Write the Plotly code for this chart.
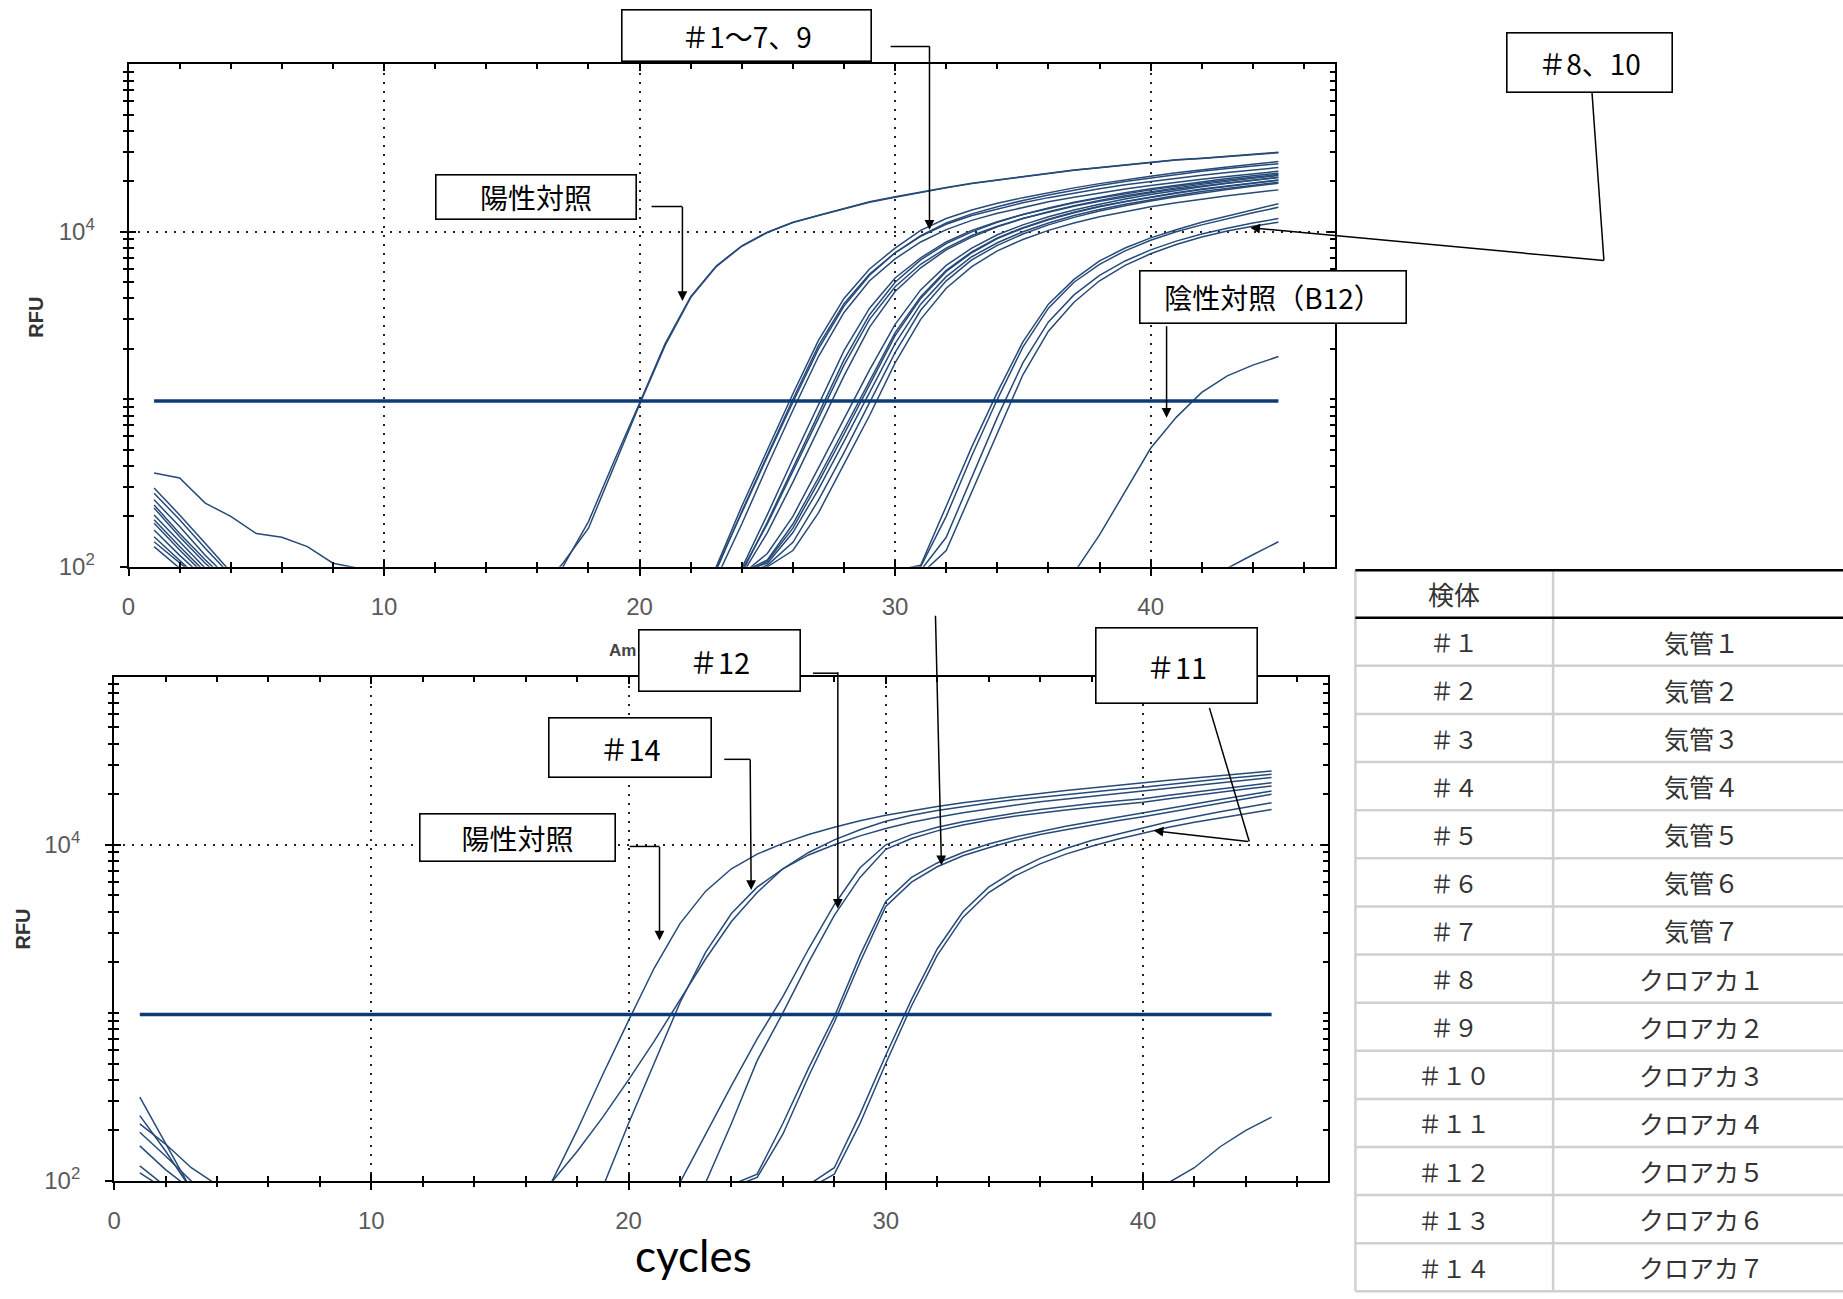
import plotly.graph_objects as go

# ---------------- data (RFU values) ----------------
# Top panel: each curve = early baseline values (cycles 1..n), then the
# amplification values starting at the given cycle and running to cycle 45.
top_pc_a_early = [363, 339, 240, 200, 158, 150, 132, 105, 98, 89]
top_pc_a_start = 16
top_pc_a = [63, 100, 186, 427, 950, 2150, 4100, 6250, 8250, 9950, 11400, 12550, 13750, 15100,
            16200, 17350, 18400, 19500, 20400, 21400, 22400, 23400, 24250, 25100, 26000, 26900,
            27500, 28200, 29150, 29850]
top_pc_b_early = [295, 204, 138, 93]
top_pc_b_start = 16
top_pc_b = [70, 105, 170, 400, 930, 2100, 4050, 6200, 8200, 9900, 11350, 12500, 13700, 15000,
            16100, 17250, 18300, 19400, 20300, 21300, 22300, 23300, 24150, 25000, 25900, 26800,
            27400, 28100, 29000, 29700]

top_a1_early = [275, 191, 129, 89]
top_a1_start = 22
top_a1 = [60, 100, 230, 500, 1080, 2250, 4000, 6000, 8000, 10200, 12000, 13500, 14800, 16000,
          17200, 18300, 19400, 20500, 21500, 22500, 23500, 24400, 25300, 26300]
top_a2_early = [251, 174, 117, 83]
top_a2_start = 22
top_a2 = [55, 95, 214, 468, 1000, 2090, 3720, 5600, 7500, 9400, 11100, 12500, 13700, 14900,
          16000, 17100, 18100, 19100, 20000, 20900, 21800, 22600, 23400, 24200]
top_a3_early = [234, 158, 110, 79]
top_a3_start = 22
top_a3 = [58, 98, 210, 455, 960, 2000, 3600, 5500, 7500, 9500, 11300, 12800, 14100, 15400,
          16600, 17800, 18900, 20000, 21000, 22000, 23000, 23900, 24700, 25500]
top_a4_early = [224, 151, 105, 76]
top_a4_start = 22
top_a4 = [50, 85, 180, 400, 860, 1800, 3300, 5100, 6900, 8700, 10300, 11700, 12900, 14000,
          15100, 16100, 17100, 18000, 18900, 19800, 20600, 21400, 22200, 23000]

top_b1_early = [204, 141, 98, 71]
top_b1_start = 23
top_b1 = [60, 98, 205, 440, 930, 1950, 3500, 5300, 7000, 8700, 10200, 11500, 12700, 13800,
          14900, 15900, 16900, 17800, 18700, 19600, 20400, 21200, 22000]
top_b2_early = [191, 132, 93, 71]
top_b2_start = 23
top_b2 = [55, 92, 185, 390, 820, 1720, 3200, 5000, 6800, 8500, 10000, 11400, 12700, 13900,
          15000, 16100, 17100, 18100, 19000, 19900, 20800, 21600, 22400]
top_b3_early = [182, 126, 89, 71]
top_b3_start = 23
top_b3 = [55, 95, 180, 370, 770, 1600, 3000, 4700, 6400, 8000, 9500, 10800, 12000, 13100,
          14200, 15200, 16200, 17100, 18000, 18800, 19600, 20400, 21200]
top_b4_early = [166, 117, 85, 71]
top_b4_start = 23
top_b4 = [50, 90, 160, 320, 660, 1380, 2700, 4400, 6100, 7800, 9300, 10700, 12000, 13200,
          14300, 15400, 16400, 17400, 18300, 19200, 20100, 20900, 21700]

top_c1_early = [151, 110, 79, 71]
top_c1_start = 24
top_c1 = [90, 120, 200, 390, 760, 1500, 2800, 4500, 6300, 8000, 9600, 11000, 12300, 13500,
          14600, 15700, 16700, 17700, 18600, 19500, 20300, 21100]
top_c2_early = [141, 105, 79, 71]
top_c2_start = 24
top_c2 = [92, 110, 180, 340, 660, 1300, 2500, 4100, 5900, 7600, 9200, 10600, 11900, 13100,
          14200, 15200, 16200, 17100, 18000, 18800, 19600, 20400]
top_c3_early = [132, 98, 76, 71]
top_c3_start = 24
top_c3 = [95, 105, 160, 290, 560, 1100, 2150, 3700, 5400, 7100, 8600, 10000, 11300, 12500,
          13600, 14600, 15600, 16500, 17400, 18200, 19000, 19800]
top_c4_start = 24
top_c4 = [90, 102, 140, 250, 480, 950, 1900, 3400, 5100, 6800, 8300, 9700, 11000, 12200,
          13300, 14300, 15300, 16200, 17100, 17900, 18700, 19500]
top_c5_start = 24
top_c5 = [85, 100, 125, 210, 410, 800, 1650, 3000, 4600, 6200, 7700, 9000, 10200, 11300,
          12300, 13200, 14100, 14900, 15700, 16400, 17100, 17800]
top_c6_start = 24
top_c6 = [88, 108, 170, 320, 620, 1230, 2400, 4000, 5800, 7500, 9100, 10500, 11800, 13000,
          14100, 15100, 16100, 17000, 17900, 18700, 19500, 20300]

top_g2_start = 30
top_g2a = [95, 102, 230, 520, 1100, 2200, 3700, 5200, 6700, 8000, 9200, 10300, 11400, 12400, 13500, 14700]
top_g2b = [90, 100, 200, 460, 1000, 2050, 3500, 5000, 6400, 7700, 8900, 10000, 11000, 12000, 13000, 14000]
top_g2c = [70, 95, 150, 340, 780, 1650, 2900, 4200, 5500, 6700, 7800, 8800, 9700, 10500, 11300, 12000]
top_g2d = [60, 90, 125, 280, 640, 1400, 2550, 3800, 5100, 6300, 7400, 8400, 9300, 10100, 10800, 11400]

top_nc_start = 36
top_nc = [65, 92, 155, 280, 510, 780, 1100, 1380, 1600, 1800]
top_late_start = 42
top_late = [80, 98, 118, 141]

# Bottom panel
bot_pc_early = [316, 166, 89]
bot_pc_start = 16
bot_pc = [60, 98, 200, 430, 900, 1850, 3400, 5300, 7200, 8800, 10200, 11500, 12700, 13900,
          15000, 16000, 16900, 17800, 18600, 19400, 20200, 21000, 21800, 22600, 23400, 24200,
          25000, 25800, 26600, 27500]
bot_14a_early = [245, 151, 89]
bot_14a_start = 16
bot_14a = [70, 98, 150, 240, 400, 680, 1200, 2100, 3500, 5200, 7200, 9000, 10700, 12300, 13800,
           15000, 16000, 16900, 17700, 18500, 19200, 19900, 20600, 21300, 22000, 22900, 23700,
           24600, 25400, 26300]
bot_14b_early = [219, 166, 120, 95]
bot_14b_start = 18
bot_14b = [60, 92, 220, 500, 1150, 2300, 3900, 5600, 7200, 8700, 10000, 11300, 12500, 13600,
           14600, 15500, 16400, 17200, 18000, 18700, 19400, 20100, 20800, 21600, 22500, 23300,
           24200, 25100]
bot_12a_early = [195, 141, 100, 79]
bot_12a_start = 21
bot_12a = [60, 98, 190, 370, 700, 1250, 2400, 4400, 7300, 10000, 11500, 12700, 13700, 14600,
           15400, 16200, 16900, 17600, 18200, 18800, 19700, 20600, 21500, 22400, 23400]
bot_12b_early = [162, 117, 89]
bot_12b_start = 22
bot_12b = [60, 98, 220, 520, 1000, 2000, 3800, 6400, 9400, 10900, 12100, 13100, 14000, 14800,
           15500, 16100, 16700, 17300, 17900, 18800, 19700, 20600, 21500, 22400]
bot_13a_early = [123, 93]
bot_13a_start = 23
bot_13a = [70, 95, 110, 220, 470, 950, 2200, 4600, 6400, 7800, 9000, 10100, 11100, 12000,
           12900, 13700, 14600, 15500, 16500, 17500, 18600, 19700, 20900]
bot_13b_early = [112, 89]
bot_13b_start = 23
bot_13b = [65, 92, 105, 190, 420, 880, 2000, 4300, 6000, 7400, 8600, 9600, 10600, 11500,
           12300, 13100, 13900, 14700, 15600, 16600, 17600, 18800, 20000]
bot_11_start = 26
bot_11a = [70, 95, 120, 250, 560, 1200, 2400, 4000, 5600, 7000, 8300, 9500, 10600, 11600,
           12600, 13700, 14700, 15700, 16700, 17800]
bot_11b = [65, 90, 110, 220, 500, 1100, 2200, 3700, 5200, 6500, 7700, 8800, 9800, 10800,
           11700, 12700, 13600, 14500, 15300, 16200]
bot_nc_start = 40
bot_nc = [70, 98, 120, 160, 200, 240]

threshold_cycles = [1, 45]
threshold_top = 977
threshold_bottom = 980

x_tick_vals = [0, 10, 20, 30, 40]
y_tick_vals = [100, 10000]
y_tick_text = ["10<sup>2</sup>", "10<sup>4</sup>"]
y_minor_vals = [200, 300, 400, 500, 600, 700, 800, 900,
                1000, 2000, 3000, 4000, 5000, 6000, 7000, 8000, 9000,
                20000, 30000, 40000, 50000, 60000, 70000, 80000, 90000]

table_header = ["検体", ""]
sample_ids = ["＃１", "＃２", "＃３", "＃４", "＃５", "＃６", "＃７",
              "＃８", "＃９", "＃１０", "＃１１", "＃１２", "＃１３", "＃１４"]
sample_names = ["気管１", "気管２", "気管３", "気管４", "気管５", "気管６", "気管７",
                "クロアカ１", "クロアカ２", "クロアカ３", "クロアカ４", "クロアカ５", "クロアカ６", "クロアカ７"]

# ---------------- figure ----------------
W, H = 1843, 1299


def fx(p):
    return p / W


def fy(p):
    return 1 - p / H


CURVE = "#274a78"
TH = "#0d3b76"

top_curves = [
    (top_pc_a_early, top_pc_a_start, top_pc_a),
    (top_pc_b_early, top_pc_b_start, top_pc_b),
    (top_a1_early, top_a1_start, top_a1),
    (top_a2_early, top_a2_start, top_a2),
    (top_a3_early, top_a3_start, top_a3),
    (top_a4_early, top_a4_start, top_a4),
    (top_b1_early, top_b1_start, top_b1),
    (top_b2_early, top_b2_start, top_b2),
    (top_b3_early, top_b3_start, top_b3),
    (top_b4_early, top_b4_start, top_b4),
    (top_c1_early, top_c1_start, top_c1),
    (top_c2_early, top_c2_start, top_c2),
    (top_c3_early, top_c3_start, top_c3),
    ([], top_c4_start, top_c4),
    ([], top_c5_start, top_c5),
    ([], top_c6_start, top_c6),
    ([], top_g2_start, top_g2a),
    ([], top_g2_start, top_g2b),
    ([], top_g2_start, top_g2c),
    ([], top_g2_start, top_g2d),
    ([], top_nc_start, top_nc),
    ([], top_late_start, top_late),
]
bot_curves = [
    (bot_pc_early, bot_pc_start, bot_pc),
    (bot_14a_early, bot_14a_start, bot_14a),
    (bot_14b_early, bot_14b_start, bot_14b),
    (bot_12a_early, bot_12a_start, bot_12a),
    (bot_12b_early, bot_12b_start, bot_12b),
    (bot_13a_early, bot_13a_start, bot_13a),
    (bot_13b_early, bot_13b_start, bot_13b),
    ([], bot_11_start, bot_11a),
    ([], bot_11_start, bot_11b),
    ([], bot_nc_start, bot_nc),
]

fig = go.Figure()


def add_curve(early, start, rise, xa, ya):
    xs = list(range(1, len(early) + 1)) + list(range(start, start + len(rise)))
    ys = list(early) + list(rise)
    fig.add_trace(go.Scatter(x=xs, y=ys, mode="lines", line=dict(color=CURVE, width=1.5),
                             xaxis=xa, yaxis=ya, hoverinfo="skip", showlegend=False))


for e, s, r in top_curves:
    add_curve(e, s, r, "x", "y")
for e, s, r in bot_curves:
    add_curve(e, s, r, "x2", "y2")

fig.add_trace(go.Scatter(x=threshold_cycles, y=[threshold_top] * 2, mode="lines",
                         line=dict(color=TH, width=3.5), xaxis="x", yaxis="y",
                         hoverinfo="skip", showlegend=False))
fig.add_trace(go.Scatter(x=threshold_cycles, y=[threshold_bottom] * 2, mode="lines",
                         line=dict(color=TH, width=3.5), xaxis="x2", yaxis="y2",
                         hoverinfo="skip", showlegend=False))
# empty traces so the inner-tick overlay axes get drawn
for xa, ya in [("x3", "y"), ("x", "y3"), ("x4", "y2"), ("x2", "y4")]:
    fig.add_trace(go.Scatter(x=[], y=[], xaxis=xa, yaxis=ya, showlegend=False, hoverinfo="skip"))

tickfont = dict(family="Liberation Sans", size=24, color="#5a5a5a")
grid = dict(showgrid=True, gridcolor="#222222", griddash="2px,7px", gridwidth=1.6)


def xaxis_main(dom, rng, anchor):
    return dict(domain=dom, range=rng, anchor=anchor, tickmode="array", tickvals=x_tick_vals,
                ticks="outside", ticklen=7, tickwidth=1.6, tickcolor="black",
                showline=True, linewidth=2, linecolor="black", mirror=True, zeroline=False,
                tickfont=tickfont, ticklabelstandoff=10,
                minor=dict(tickmode="linear", tick0=0, dtick=2, ticks="outside", ticklen=4,
                           tickwidth=1.6, tickcolor="black", showgrid=False),
                **grid)


def xaxis_over(over, rng, anchor):
    return dict(overlaying=over, range=rng, anchor=anchor, tickmode="array", tickvals=x_tick_vals,
                ticks="inside", ticklen=7, tickwidth=1.6, tickcolor="black", mirror="ticks",
                showline=False, showgrid=False, zeroline=False, showticklabels=False,
                minor=dict(tickmode="linear", tick0=0, dtick=2, ticks="inside", ticklen=5,
                           tickwidth=1.6, tickcolor="black", showgrid=False))


def yaxis_main(dom, anchor):
    return dict(domain=dom, type="log", range=[2, 5], anchor=anchor, tickmode="array",
                tickvals=y_tick_vals, ticktext=y_tick_text,
                ticks="outside", ticklen=7, tickwidth=1.6, tickcolor="black",
                showline=True, linewidth=2, linecolor="black", mirror=True, zeroline=False,
                tickfont=tickfont, ticklabelstandoff=20,
                minor=dict(tickmode="array", tickvals=y_minor_vals, ticks="outside", ticklen=4,
                           tickwidth=1.6, tickcolor="black", showgrid=False),
                **grid)


def yaxis_over(over, anchor):
    return dict(overlaying=over, type="log", range=[2, 5], anchor=anchor, tickmode="array",
                tickvals=y_tick_vals, ticks="inside", ticklen=7, tickwidth=1.6, tickcolor="black",
                mirror="ticks", showline=False, showgrid=False, zeroline=False,
                showticklabels=False,
                minor=dict(tickmode="array", tickvals=y_minor_vals, ticks="inside", ticklen=5,
                           tickwidth=1.6, tickcolor="black", showgrid=False))


top_xdom = [fx(122), fx(1333)]
top_ydom = [fy(572.5), fy(65)]
top_xr = [0, (1333 - 122) / 25.65]
bot_xdom = [fx(107.5), fx(1326)]
bot_ydom = [fy(1193), fy(683.5)]
bot_xr = [0, (1326 - 107.5) / 25.82]

annotations = []
shapes = []

JP = "Noto Sans CJK JP"


def box(text, cx, cy, w, h, size=28):
    annotations.append(dict(text=text, x=fx(cx), y=fy(cy), xref="paper", yref="paper",
                            xanchor="center", yanchor="middle", showarrow=False,
                            width=w, height=h, bordercolor="black", borderwidth=1.6,
                            borderpad=0, bgcolor="white", align="center", valign="middle",
                            font=dict(family=JP, size=size, color="black")))


def arrow(x0, y0, x1, y1):
    annotations.append(dict(text="", x=fx(x1), y=fy(y1), xref="paper", yref="paper",
                            ax=x0 - x1, ay=y0 - y1, showarrow=True, arrowhead=2,
                            arrowsize=1.3, arrowwidth=1.5, arrowcolor="black", standoff=0))


def seg(x0, y0, x1, y1, color="black", width=1.5):
    shapes.append(dict(type="line", xref="paper", yref="paper", x0=fx(x0), y0=fy(y0),
                       x1=fx(x1), y1=fy(y1), line=dict(color=color, width=width), layer="above"))


def text(t, cx, cy, size, color="black", family=JP, angle=0):
    annotations.append(dict(text=t, x=fx(cx), y=fy(cy), xref="paper", yref="paper",
                            xanchor="center", yanchor="middle", showarrow=False,
                            textangle=angle, font=dict(family=family, size=size, color=color)))


# axis captions
text("<b>RFU</b>", 29, 320, 20, "#333333", "Liberation Sans", -90)
text("<b>RFU</b>", 16, 938, 20, "#333333", "Liberation Sans", -90)
text("<b>Am</b>", 618, 657, 17, "#444444", "Liberation Sans")
text("cycles", 689, 1268, 44, "black", "Lato")

# connectors (drawn under the label boxes)
seg(647, 208.6, 678, 208.6)
arrow(678, 208.6, 678, 304)
seg(887, 47, 926, 47)
arrow(926, 47, 926, 232)
seg(1591, 93, 1603, 263)
arrow(1603, 263, 1248, 230)
arrow(1164, 329, 1164, 422)
seg(809, 680, 834, 680)
arrow(834, 680, 834, 918)
seg(720, 767, 746, 767)
arrow(746, 767, 747, 899)
seg(625, 855, 655, 855)
arrow(655, 855, 655, 950)
seg(1207, 715, 1247, 850)
arrow(1247, 850, 1151, 839)
arrow(932, 623, 938, 874)

# label boxes
box("陽性対照", 531.5, 198.5, 199, 43)
box("＃1〜7、9", 742, 36, 248, 50)
box("＃8、10", 1589, 63, 164, 58)
box("陰性対照（B12）", 1270.5, 300.5, 265, 51)
box("＃12", 715, 667, 160, 60, 29)
box("＃14", 625.5, 755, 161, 58, 29)
box("陽性対照", 512, 846, 194, 46)
box("＃11", 1174, 672, 160, 74, 29)

# table
T_LEFT, T_MID, T_TOP, T_HEAD, ROW = 1353.5, 1552, 576, 624, 48.6
GREY = "#d0d0d0"
seg(T_LEFT, T_TOP, T_LEFT, H + 5, GREY, 2.5)
seg(T_MID, T_TOP, T_MID, H + 5, GREY, 2.5)
for i in range(1, len(sample_ids) + 1):
    yy = T_HEAD + ROW * i
    seg(T_LEFT, yy, W + 5, yy, GREY, 2.5)
seg(T_LEFT, T_TOP, W + 5, T_TOP, "black", 2.5)
seg(T_LEFT, T_HEAD, W + 5, T_HEAD, "black", 2.5)
col1 = (T_LEFT + T_MID) / 2
col2 = 1701
text(table_header[0], col1, (T_TOP + T_HEAD) / 2, 26, "#333333")
text(table_header[1], col2, (T_TOP + T_HEAD) / 2, 26, "#333333")
for i, (sid, nm) in enumerate(zip(sample_ids, sample_names)):
    yc = T_HEAD + ROW * (i + 0.5)
    text(sid, col1, yc, 24, "#333333")
    text(nm, col2, yc, 25, "#333333")

fig.update_layout(
    width=W, height=H, margin=dict(l=0, r=0, t=0, b=0),
    paper_bgcolor="white", plot_bgcolor="white", showlegend=False,
    xaxis=xaxis_main(top_xdom, top_xr, "y"),
    yaxis=yaxis_main(top_ydom, "x"),
    xaxis2=xaxis_main(bot_xdom, bot_xr, "y2"),
    yaxis2=yaxis_main(bot_ydom, "x2"),
    xaxis3=xaxis_over("x", top_xr, "y"),
    yaxis3=yaxis_over("y", "x"),
    xaxis4=xaxis_over("x2", bot_xr, "y2"),
    yaxis4=yaxis_over("y2", "x2"),
    annotations=annotations,
    shapes=shapes,
)

fig.write_html("out.html", config={"displayModeBar": False},
               post_script="document.body.style.margin='0';document.body.style.overflow='hidden';")
